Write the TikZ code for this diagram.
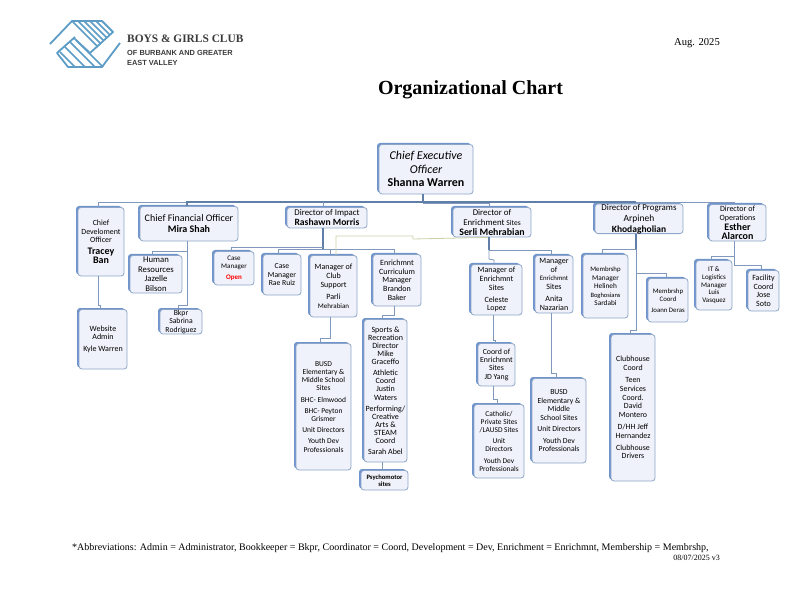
\documentclass[tikz,border=0pt]{standalone}
\usepackage{fontspec}
\setmainfont{Liberation Serif}
\newfontfamily\boxfont{Carlito}
\newfontfamily\subfont{Liberation Sans}
\usetikzlibrary{shadows}
\definecolor{boxline}{HTML}{8CA5C8}
\definecolor{boxfill}{HTML}{EFF2FA}
\definecolor{boxedge}{HTML}{6F94CC}
\definecolor{linkblue}{HTML}{7F98BC}
\definecolor{linkdark}{HTML}{5F7FA8}
\definecolor{linkolive}{HTML}{C9CFA6}
\definecolor{logoblue}{HTML}{5C9CC6}
\definecolor{logotext}{HTML}{3A3A3A}
\tikzset{
  box/.style 2 args={draw=boxline, line width=0.8pt, fill=boxfill, rounded corners=3pt,
    minimum width=#1pt, minimum height=#2pt, inner sep=0pt, align=center,
    copy shadow={shadow xshift=-2pt, shadow yshift=1.5pt, fill=boxedge, draw=none}},
  sz/.style 2 args={font=\boxfont\fontsize{#1}{#2}\selectfont},
  link/.style={draw=linkblue, line width=0.8pt},
  thicklink/.style={draw=linkdark, line width=1.3pt},
  hand/.style={draw=logoblue, line width=1.5pt, line join=round}
}
\newcommand{\nm}{\fontsize{10}{11}\selectfont\bfseries}
\begin{document}
\begin{tikzpicture}[x=1pt,y=-1pt]
\useasboundingbox (0,0) rectangle (792,612);

% logo
\foreach \i in {72,78,84,90,96} {
  \draw[hand] (\i,21) -- ({(\i+124)/2},{(166-\i)/2});
}
\foreach \i in {60,65,70,74} {
  \draw[hand] (\i,112-\i) -- (2*\i-45,67);
}
\draw[hand,line width=1.8pt] (50,44) -- (72,21) -- (102,21) -- (113,32) -- (90,53) -- (76,40);
\draw[hand,line width=1.8pt] (120,43) -- (102,67) -- (68,67) -- (57,53) -- (75,37);
\node[anchor=west,inner sep=0pt,font=\bfseries\fontsize{11.4}{13}\selectfont,text=logotext] (logoname) at (127,39) {BOYS \& GIRLS CLUB};
\node[anchor=north west,inner sep=0pt,align=left,font=\subfont\bfseries\fontsize{7.4}{9.7}\selectfont,text=logotext] (logosub) at (127,50) {OF BURBANK AND GREATER\\EAST VALLEY};

\node[inner sep=0pt,anchor=east,font=\fontsize{10.6}{12}\selectfont] (date) at (720,43) {Aug. 2025};
\node[inner sep=0pt,font=\bfseries\fontsize{20}{24}\selectfont] (title) at (470.5,89.5) {Organizational Chart};

% top row
\node[box={94}{49.5},sz={12}{14}] (ceo) at (426,169.25) {\itshape Chief Executive\\\itshape Officer\\[-1pt]\bfseries Shanna Warren};
\node[box={46}{68.5},sz={7.9}{8.8}] (cdo) at (101,241.75) {Chief\\Develoment\\Officer\\[3pt]\nm Tracey\\\nm Ban};
\node[box={98}{34.5},sz={10}{11.5}] (cfo) at (189,223.75) {Chief Financial Officer\\\bfseries Mira Shah};
\node[box={80}{20.5},sz={8.8}{10.5}] (impact) at (327,217.75) {Director of Impact\\\fontsize{9.6}{10.5}\selectfont\bfseries Rashawn Morris};
\node[box={78}{29.5},sz={8.8}{9.8}] (enrich) at (492,222.25) {Director of\\Enrichment {\fontsize{7.5}{9}\selectfont Sites}\\\fontsize{9.9}{9.8}\selectfont\bfseries Serli Mehrabian};
\node[box={88}{26.5},sz={9}{11}] (prog) at (639,218.75) {\fontsize{8.9}{11}\selectfont Director of Programs\\\fontsize{9.5}{11}\selectfont Arpineh\\\fontsize{9.5}{11}\selectfont\bfseries Khodagholian};
\node[box={57}{36.5},sz={8}{8.8}] (ops) at (737.5,222.75) {Director of\\Operations\\[1pt]\nm Esther\\\nm Alarcon};

% second level
\node[box={52}{37.5},sz={8.7}{9.8}] (hr) at (156,274.25) {Human\\Resources\\Jazelle\\Bilson};
\node[box={42}{24.5},sz={7.7}{8.4}] (bkpr) at (181,321.75) {Bkpr\\Sabrina\\Rodriguez};
\node[box={48}{59.5},sz={8}{8.8}] (web) at (103,339.25) {Website\\Admin\\[3pt]Kyle Warren};
\node[box={40}{33.5},sz={7}{8.3}] (open) at (234,268.25) {Case\\Manager\\[2pt]\bfseries\color{red} Open};
\node[box={38}{40.5},sz={7.7}{8.7}] (rae) at (282,274.75) {Case\\Manager\\Rae Ruiz};
\node[box={47}{61.5},sz={8}{8.8}] (club) at (333.5,286.25) {Manager of\\Club\\Support\\[3pt]Parli\\\fontsize{7}{8.8}\selectfont Mehrabian};
\node[box={48}{51.5},sz={8}{8.8}] (curr) at (397,280.25) {Enrichmnt\\Curriculum\\Manager\\Brandon\\Baker};
\node[box={43}{142.5},sz={8}{8.1}] (sports) at (385.5,390.75) {Sports \&\\Recreation\\Director\\Mike\\Graceffo\\[3pt]Athletic\\Coord\\Justin\\Waters\\[3pt]Performing/\\Creative\\Arts \&\\STEAM\\Coord\\[3pt]Sarah Abel};
\node[box={47}{19.5},sz={6.6}{7}] (psycho) at (384.5,480.25) {\bfseries Psychomotor\\\bfseries sites};
\node[box={55}{126.5},sz={7.5}{8.2}] (busdw) at (323.5,406.75) {BUSD\\Elementary \&\\Middle School\\Sites\\[3pt]BHC- Elmwood\\[3pt]BHC- Peyton\\Grismer\\[3pt]Unit Directors\\[3pt]Youth Dev\\Professionals};
\node[box={51}{50.5},sz={8}{8.8}] (sites) at (496.5,289.75) {Manager of\\Enrichmnt\\Sites\\[3pt]Celeste\\Lopez};
\node[box={38}{57.5},sz={8}{8.8}] (anita) at (554,284.25) {Manager\\of\\{\fontsize{6.8}{8.8}\selectfont Enrichmnt}\\Sites\\[3pt]Anita\\Nazarian};
\node[box={37}{42.5},sz={7.8}{8.2}] (jd) at (496.5,364.75) {Coord of\\Enrichmnt\\Sites\\JD Yang};
\node[box={50}{73.5},sz={7.4}{8.2}] (cath) at (499,441.25) {Catholic/\\Private Sites\\/LAUSD Sites\\[3pt]Unit\\Directors\\[3pt]Youth Dev\\Professionals};
\node[box={54}{84.5},sz={7.7}{8.5}] (busde) at (559,420.75) {BUSD\\Elementary \&\\Middle\\School Sites\\[3pt]Unit Directors\\[3pt]Youth Dev\\Professionals};
\node[box={44}{146.5},sz={7.9}{8.8}] (house) at (633,407.75) {Clubhouse\\Coord\\[3pt]Teen\\Services\\Coord.\\David\\Montero\\[3pt]D/HH Jeff\\Hernandez\\[3pt]Clubhouse\\Drivers};
\node[box={45}{63.5},sz={7.3}{8.5}] (memmgr) at (605.5,286.25) {{\fontsize{6.8}{8.5}\selectfont Membrshp}\\Manager\\Helineh\\{\fontsize{6.5}{8.5}\selectfont Boghosians}\\Sardabi};
\node[box={40}{43.5},sz={6.8}{8.5}] (memcoord) at (668,300.25) {Membrshp\\Coord\\[2pt]Joann Deras};
\node[box={36}{49.5},sz={7}{7.6}] (it) at (714,285.25) {IT \&\\Logistics\\Manager\\Luis\\Vasquez};
\node[box={31}{40.5},sz={8}{8.7}] (fac) at (763.5,290.75) {Facility\\Coord\\Jose\\Soto};

% main bus
\coordinate (busw) at (98,202);
\coordinate (buse) at (734,202);
\draw[link] (busw) -- (buse);
\draw[thicklink] (186,202) -- (636,202);
\draw[thicklink] (ceo.south -| 423,0) -- (423,202);
\draw[link] (busw) -- (cdo.north -| busw);
\draw[thicklink] (187,202) -- (cfo.north -| 187,0);
\draw[link] (323,202) -- (impact.north -| 323,0);
\draw[link] (423,203) -- (489,203) -- (enrich.north -| 489,0);
\draw[link] (636,202) -- (prog.north -| 636,0);
\draw[link] (buse) -- (ops.north -| buse);

% impact
\draw[thicklink] (impact.south -| 323,0) -- (323,249);
\draw[link] (323,247) -| (open.north -| 231,0);
\draw[link] (278,249) -- (394,249);
\draw[link] (278,249) -- (rae.north -| 278,0);
\draw[link] (330,249) -- (club.north -| 330,0);
\draw[link] (394,249) -- (curr.north -| 394,0);
\draw[link,draw=linkolive] (club.north -| 336,0) -- (336,236) -- (413,236) -- (413,239) -- (enrich.south -| 488,0);
\draw[link] (club.south -| 330,0) -- (330,338) -| (busdw.north -| 320,0);
\draw[link] (curr.south -| 394,0) -- (394,315) -| (sports.north -| 382,0);
\draw[link] (sports.south -| 382,0) -- (psycho.north -| 382,0);

% enrichment
\draw[thicklink] (enrich.south -| 489,0) -- (489,250);
\draw[link] (489,250) -| (anita.north -| 551,0);
\draw[link] (489,250) -- (489,259) -- (494,260) -- (sites.north -| 494,0);
\draw[link] (sites.south -| 493,0) -- (493,340) -| (jd.north -| 495,0);
\draw[link] (jd.south -| 493,0) -- (493,399) -| (cath.north -| 497,0);
\draw[link] (anita.south -| 551,0) -- (551,373) -| (busde.north -| 556,0);

% programs
\draw[thicklink] (prog.south -| 636,0) -- (636,249);
\draw[link] (636,249) -- (636,330) -| (house.north -| 630,0);
\draw[link] (636,249) -| (memmgr.north -| 602,0);
\draw[link] (636,273) -| (memcoord.north -| 666,0);

% operations
\draw[link] (ops.south -| 734,0) -- (734,265) -| (fac.north -| 761,0);
\draw[link] (734,256) -| (it.north -| 711,0);
\draw[link] (cdo.south -| busw) -- (98,305) -| (web.north -| 100,0);
\draw[link] (cfo.south -| 187,0) -- (187,305) -| (bkpr.north -| 178,0);
\draw[link] (187,251) -| (hr.north -| 152,0);

\node[anchor=west,inner sep=0pt,font=\fontsize{10}{11}\selectfont] (abbrev) at (72,548.5) {*Abbreviations: Admin = Administrator, Bookkeeper = Bkpr, Coordinator = Coord, Development = Dev, Enrichment = Enrichmnt, Membership = Membrshp,};
\node[anchor=east,inner sep=0pt,font=\fontsize{8}{9}\selectfont] (version) at (720,558) {08/07/2025 v3};
\end{tikzpicture}
\end{document}
